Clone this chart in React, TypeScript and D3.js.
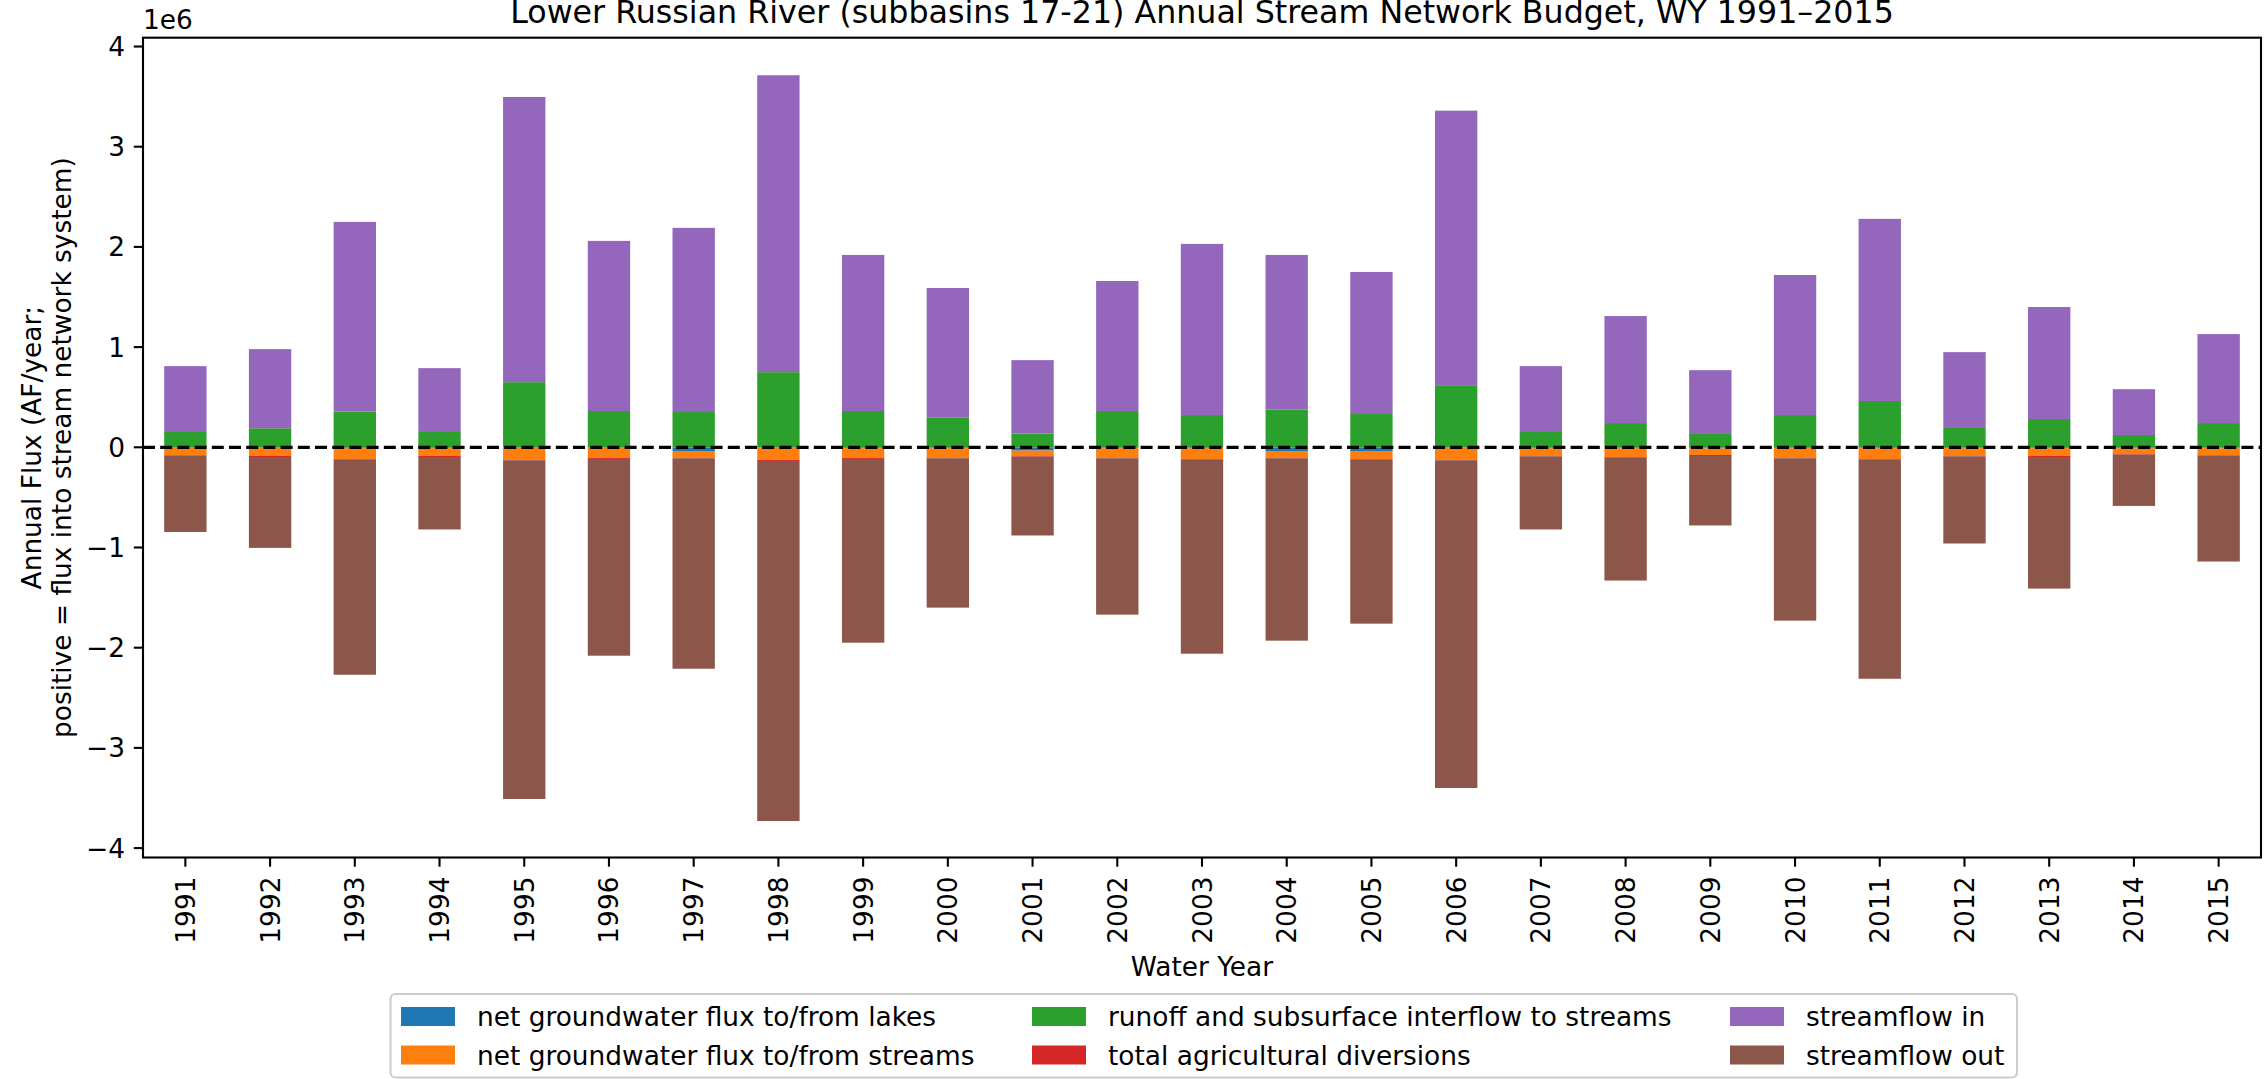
import React, {useEffect, useRef} from "react";
import * as d3 from "d3";

// water years
const years = ["1991", "1992", "1993", "1994", "1995", "1996", "1997", "1998", "1999", "2000", "2001", "2002", "2003",
    "2004", "2005", "2006", "2007", "2008", "2009", "2010", "2011", "2012", "2013", "2014", "2015"];

// annual flux, million AF/year (positive = into stream network)
const lakes = [-0.005, -0.005, -0.008, -0.008, -0.005, -0.005, -0.037, -0.005, -0.008, -0.008, -0.033, -0.008, -0.008,
    -0.037, -0.037, -0.005, -0.008, -0.008, -0.01, -0.008, -0.008, -0.008, -0.008, -0.01, -0.008];
const streams = [-0.072, -0.082, -0.108, -0.079, -0.121, -0.101, -0.069, -0.121, -0.098, -0.098, -0.05, -0.098, -0.108,
    -0.069, -0.079, -0.121, -0.079, -0.088, -0.067, -0.098, -0.108, -0.079, -0.079, -0.053, -0.069];
const runoff = [0.153, 0.19, 0.355, 0.153, 0.65, 0.362, 0.352, 0.75, 0.362, 0.295, 0.136, 0.362, 0.322,
    0.375, 0.332, 0.62, 0.153, 0.242, 0.133, 0.322, 0.462, 0.193, 0.282, 0.123, 0.242];
const agDiversions = [-0.003, -0.01, -0.003, -0.01, -0.003, -0.01, -0.003, -0.01, -0.01, -0.003, -0.01, -0.003, -0.003,
    -0.003, -0.003, -0.003, -0.003, -0.003, -0.01, -0.003, -0.003, -0.003, -0.01, -0.01, -0.003];
const streamflowIn = [0.657, 0.79, 1.895, 0.637, 2.846, 1.698, 1.838, 2.963, 1.558, 1.295, 0.734, 1.298, 1.708,
    1.545, 1.418, 2.74, 0.657, 1.068, 0.637, 1.398, 1.818, 0.757, 1.118, 0.457, 0.888];
const streamflowOut = [-0.765, -0.907, -2.151, -0.723, -3.381, -1.964, -2.101, -3.594, -1.834, -1.491, -0.787, -1.561, -1.941,
    -1.821, -1.641, -3.271, -0.73, -1.231, -0.693, -1.621, -2.191, -0.87, -1.313, -0.512, -1.06];

const seriesNames = [
    "net groundwater flux to/from lakes",
    "net groundwater flux to/from streams",
    "runoff and subsurface interflow to streams",
    "total agricultural diversions",
    "streamflow in",
    "streamflow out",
];
const colors = ["#1f77b4", "#ff7f0e", "#2ca02c", "#d62728", "#9467bd", "#8c564b"];
const yTicks = [-4, -3, -2, -1, 0, 1, 2, 3, 4];

const FONT = "DejaVu Sans";

export default function App()
{
    const ref = useRef<SVGSVGElement>(null);

    useEffect(() =>
    {
        const width = 2267;
        const height = 1079;
        const margin = {top: 37.7, right: 2267 - 2261, bottom: 1079 - 857.5, left: 143};
        const fs = 26.4;

        const svg = d3.select(ref.current);
        svg.selectAll("*").remove();
        svg.attr("width", width).attr("height", height);

        const series = [lakes, streams, runoff, agDiversions, streamflowIn, streamflowOut];
        const keys = seriesNames;
        const rows = years.map((y, i) =>
        {
            const r: any = {year: y};
            keys.forEach((k, j) => (r[k] = series[j][i] * 1e6));
            return r;
        });

        const stacked = d3.stack<any>().keys(keys).offset(d3.stackOffsetDiverging)(rows);

        const x = d3.scaleLinear()
            .domain([-0.5, years.length - 0.5])
            .range([margin.left, width - margin.right]);
        const y = d3.scaleLinear()
            .domain([-4.094e6, 4.088e6])
            .range([height - margin.bottom, margin.top]);
        const barW = x(0.5) - x(0);

        // bars
        stacked.forEach((layer, li) =>
        {
            svg.append("g")
                .attr("fill", colors[li])
                .selectAll("rect")
                .data(layer)
                .enter()
                .append("rect")
                .attr("x", (_, i) => x(i) - barW / 2)
                .attr("width", barW)
                .attr("y", (d) => y(Math.max(d[0], d[1])))
                .attr("height", (d) => Math.abs(y(d[0]) - y(d[1])));
        });

        // zero line
        svg.append("line")
            .attr("x1", margin.left)
            .attr("x2", width - margin.right)
            .attr("y1", y(0))
            .attr("y2", y(0))
            .attr("stroke", "black")
            .attr("stroke-width", 3.2)
            .attr("stroke-dasharray", "12,5.2");

        // spines
        svg.append("rect")
            .attr("x", margin.left)
            .attr("y", margin.top)
            .attr("width", width - margin.right - margin.left)
            .attr("height", height - margin.bottom - margin.top)
            .attr("fill", "none")
            .attr("stroke", "black")
            .attr("stroke-width", 2.1);

        // y axis
        const yAxis = svg.append("g");
        yTicks.forEach((t) =>
        {
            yAxis.append("line")
                .attr("x1", margin.left - 9.2)
                .attr("x2", margin.left)
                .attr("y1", y(t * 1e6))
                .attr("y2", y(t * 1e6))
                .attr("stroke", "black")
                .attr("stroke-width", 2.1);
            yAxis.append("text")
                .attr("x", margin.left - 18)
                .attr("y", y(t * 1e6))
                .attr("dy", "0.36em")
                .attr("text-anchor", "end")
                .attr("font-family", FONT)
                .attr("font-size", fs)
                .text(t < 0 ? "\u2212" + Math.abs(t) : String(t));
        });

        // x axis
        const xAxis = svg.append("g");
        years.forEach((yr, i) =>
        {
            const bottom = height - margin.bottom;
            xAxis.append("line")
                .attr("x1", x(i))
                .attr("x2", x(i))
                .attr("y1", bottom)
                .attr("y2", bottom + 9.2)
                .attr("stroke", "black")
                .attr("stroke-width", 2.1);
            xAxis.append("text")
                .attr("transform", `translate(${x(i)}, ${bottom + 19}) rotate(-90)`)
                .attr("text-anchor", "end")
                .attr("dy", "0.36em")
                .attr("font-family", FONT)
                .attr("font-size", fs)
                .text(yr);
        });

        const cx = (margin.left + width - margin.right) / 2;
        const cy = (margin.top + height - margin.bottom) / 2;

        // titles and labels
        svg.append("text")
            .attr("x", cx)
            .attr("y", 22.5)
            .attr("text-anchor", "middle")
            .attr("font-family", FONT)
            .attr("font-size", 31.7)
            .text("Lower Russian River (subbasins 17-21) Annual Stream Network Budget, WY 1991\u20132015");

        svg.append("text")
            .attr("x", margin.left)
            .attr("y", 29)
            .attr("font-family", FONT)
            .attr("font-size", fs)
            .text("1e6");

        svg.append("text")
            .attr("x", cx)
            .attr("y", 976)
            .attr("text-anchor", "middle")
            .attr("font-family", FONT)
            .attr("font-size", fs)
            .text("Water Year");

        const yLabel = ["Annual Flux (AF/year;", "positive = flux into stream network system)"];
        yLabel.forEach((line, i) =>
        {
            svg.append("text")
                .attr("transform", `translate(${40.5 + i * 30.5}, ${cy}) rotate(-90)`)
                .attr("text-anchor", "middle")
                .attr("font-family", FONT)
                .attr("font-size", fs)
                .text(line);
        });

        // legend
        const legend = svg.append("g");
        legend.append("rect")
            .attr("x", 390.5)
            .attr("y", 994)
            .attr("width", 2017 - 390.5)
            .attr("height", 1077.5 - 994)
            .attr("rx", 5)
            .attr("fill", "white")
            .attr("fill-opacity", 0.8)
            .attr("stroke", "#cccccc")
            .attr("stroke-width", 2.1);

        const colX = [401, 1032, 1730];
        const rowY = [1016.5, 1055];
        seriesNames.forEach((name, i) =>
        {
            const col = Math.floor(i / 2);
            const row = i % 2;
            legend.append("rect")
                .attr("x", colX[col])
                .attr("y", rowY[row] - 9.5)
                .attr("width", 54)
                .attr("height", 19)
                .attr("fill", colors[i]);
            legend.append("text")
                .attr("x", colX[col] + 76)
                .attr("y", rowY[row])
                .attr("dy", "0.36em")
                .attr("font-family", FONT)
                .attr("font-size", fs)
                .text(name);
        });
    }, []);

    return (
        <svg ref={ref} style={{position: "absolute", left: 0, top: 0, display: "block"}}></svg>
    );
}
